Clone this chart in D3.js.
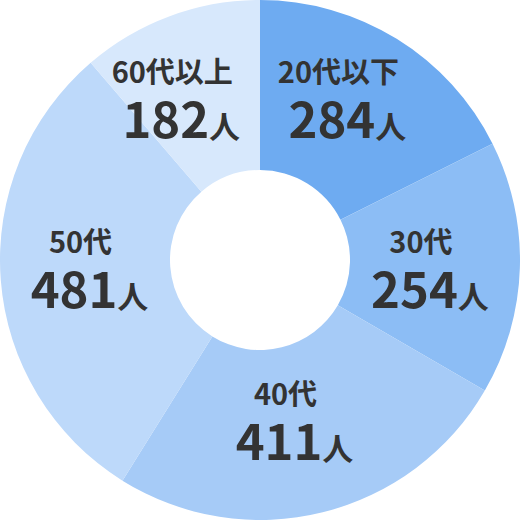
<!DOCTYPE html>
<html>
<head>
<meta charset="utf-8">
<script src="https://cdn.jsdelivr.net/npm/d3@7"></script>
<style>
  html, body { margin: 0; padding: 0; background: #fff; }
  svg { display: block; }
  text { font-family: "Noto Sans CJK JP", "Noto Sans", sans-serif; fill: #333; }
</style>
</head>
<body>
<svg id="chart" width="520" height="520"></svg>
<script>
// Datos del gráfico
var categories = ['20代以下', '30代', '40代', '50代', '60代以上'];
var counts = [284, 254, 411, 481, 182];
var unit = '人';

var colors = ['#6eabf1', '#8cbdf5', '#a6cbf7', '#bdd9fa', '#d7e8fc'];

var width = 520,
  height = 520,
  radius = 260,
  innerRadius = 90,
  labelRadius = 172;

// pequeños ajustes de posición de las etiquetas (px)
var labelShift = [[-12, -31], [-11, -12], [-16, -22], [-8, -20], [-28, -16]];

var data = categories.map(function (c, i) {
  return { label: c, value: counts[i] };
});

var svg = d3.select('#chart')
  .append('g')
  .attr('transform', 'translate(' + (width / 2) + ',' + (height / 2) + ')');

var pie = d3.pie()
  .sort(null)
  .value(function (d) { return d.value; });

var arc = d3.arc()
  .innerRadius(innerRadius)
  .outerRadius(radius);

var labelArc = d3.arc()
  .innerRadius(labelRadius)
  .outerRadius(labelRadius);

var slices = svg.selectAll('g.slice')
  .data(pie(data))
  .enter()
  .append('g')
  .attr('class', 'slice');

slices.append('path')
  .attr('d', arc)
  .attr('fill', function (d, i) { return colors[i]; });

// Etiqueta (categoría + cantidad) en un solo texto de dos líneas
var labels = slices.append('text')
  .attr('text-anchor', 'middle')
  .attr('transform', function (d, i) {
    var c = labelArc.centroid(d);
    return 'translate(' + (c[0] + labelShift[i][0]) + ',' + (c[1] + labelShift[i][1]) + ')';
  });

labels.append('tspan')
  .attr('x', 0)
  .style('font-size', '29px')
  .style('font-weight', 700)
  .text(function (d) { return d.data.label; });

labels.append('tspan')
  .attr('x', 9)
  .attr('dy', 55)
  .style('font-size', '49px')
  .style('font-weight', 700)
  .text(function (d) { return d.data.value; });

labels.append('tspan')
  .style('font-size', '31px')
  .style('font-weight', 700)
  .text(unit);
</script>
</body>
</html>
